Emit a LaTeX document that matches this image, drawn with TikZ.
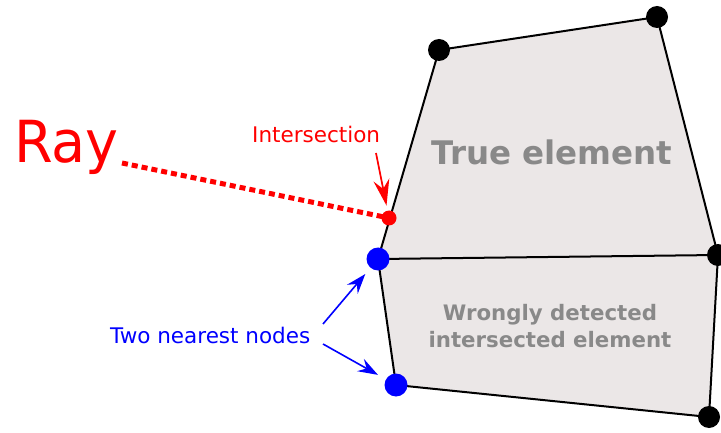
\documentclass[tikz,border=0pt]{standalone}
\usepackage{fontspec}
\setmainfont{DejaVu Sans}
\usetikzlibrary{arrows.meta}
\definecolor{elemfill}{HTML}{EBE7E7}
\definecolor{txtgray}{HTML}{898989}
\begin{document}
\begin{tikzpicture}[x=1pt,y=-1pt,
  edge/.style={line width=2pt, line join=round},
  blkpt/.style={circle, fill=black, inner sep=0pt, minimum size=22pt},
  bluept/.style={circle, fill=blue, inner sep=0pt, minimum size=23pt},
  redpt/.style={circle, fill=red, inner sep=0pt, minimum size=15pt},
  raydash/.style={red, line width=5pt, dash pattern=on 6pt off 4pt},
  redarrow/.style={red, line width=1.7pt, -{Stealth[length=26pt,width=16pt,inset=9pt]}},
  bluearrow/.style={blue, line width=1.6pt, -{Stealth[length=20pt,width=14pt,inset=7pt]}},
  graylab/.style={text=txtgray, font=\bfseries\fontsize{21.3}{24}\selectfont, anchor=base, inner sep=0pt},
  labtxt/.style={font=\fontsize{21.5}{24}\selectfont, anchor=base west, inner sep=0pt}
]
\useasboundingbox (0,0) rectangle (721,433);
\coordinate (A) at (439,50);
\coordinate (B) at (657,17);
\coordinate (C) at (718,255);
\coordinate (D) at (709,417);
\coordinate (E) at (378,259);
\coordinate (F) at (396,385);
\fill[elemfill] (A)--(B)--(C)--(D)--(F)--(E)--cycle;
\draw[edge] (A)--(B)--(C)--(D)--(F)--(E)--cycle;
\draw[edge] (E)--(C);
\node[blkpt] (nA) at (A) {};
\node[blkpt] (nB) at (B) {};
\node[blkpt] (nC) at (C) {};
\node[blkpt] (nD) at (D) {};
\node[bluept] (nE) at (E) {};
\node[bluept] (nF) at (F) {};
% ray
\node[text=red, font=\fontsize{58}{60}\selectfont, anchor=base west, inner sep=0pt, xscale=0.96] (ray) at (14,163) {Ray};
\coordinate (r0) at (122,163);
\draw[raydash] (r0) -- (389,218);
\node[redpt] (I) at (389,218) {};
% intersection label
\node[labtxt, text=red] (ilab) at (252,143) {Intersection};
\coordinate (ia) at (376,153);
\draw[redarrow, shorten >=5pt] (ia) -- (I);
% element labels
\node[text=txtgray, font=\bfseries\fontsize{32.5}{34}\selectfont, anchor=base, inner sep=0pt] (true) at (552,165) {True element};
\node[graylab] (w1) at (550,320) {Wrongly detected};
\node[graylab] (w2) at (550,347) {intersected element};
% two nearest nodes
\node[labtxt, text=blue] (two) at (110,343) {Two nearest nodes};
\coordinate (b1) at (323,324);
\coordinate (b2) at (323,344);
\draw[bluearrow, shorten >=8pt] (b1) -- (nE);
\draw[bluearrow, shorten >=9pt] (b2) -- (nF);
\end{tikzpicture}
\end{document}
